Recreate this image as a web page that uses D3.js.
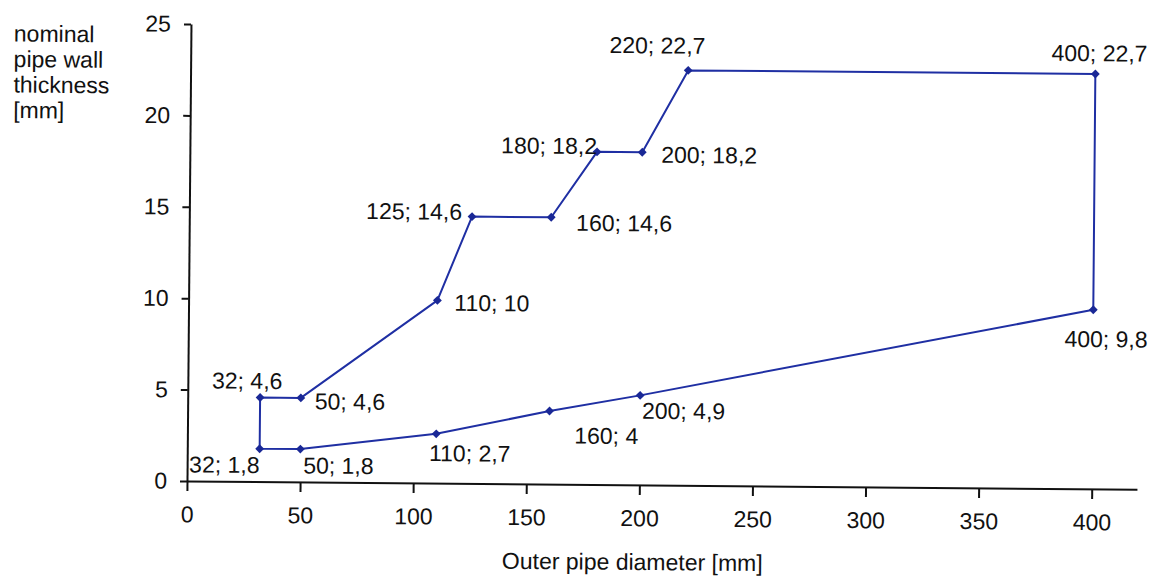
<!DOCTYPE html>
<html lang="en">
<head>
  <meta charset="UTF-8" />
  <title>Nominal pipe wall thickness vs outer diameter</title>
  <script src="https://d3js.org/d3.v7.min.js"></script>
  <style>
    body {
      margin: 0;
      background: #ffffff;
      font-family: "Liberation Sans", Arial, sans-serif;
    }
    svg { display: block; }
    .axis path, .axis line { stroke: #111; stroke-width: 2; }
    .axis text { font-size: 23px; fill: #111; font-family: "Liberation Sans", Arial, sans-serif; }
    .title { font-size: 23px; fill: #111; }
    .pt-label { font-size: 23px; fill: #111; }
    .outline { fill: none; stroke: #1f2fa3; stroke-width: 2; stroke-linejoin: round; }
    .marker { fill: #1a2896; }
  </style>
</head>
<body>
<svg id="chart"></svg>
<script>
// outer pipe diameter [mm], walked round the outline of the range
const diameters  = [32, 32, 50, 110, 125, 160, 180, 200, 220, 400, 400, 200, 160, 110, 50];
// nominal wall thickness [mm]
const thickness  = [1.8, 4.6, 4.6, 10, 14.6, 14.6, 18.2, 18.2, 22.7, 22.7, 9.8, 4.9, 4, 2.7, 1.8];
const xTicks = [0, 50, 100, 150, 200, 250, 300, 350, 400];
const yTicks = [0, 5, 10, 15, 20, 25];
const yTitle = ["nominal", "pipe wall", "thickness", "[mm]"];
const xTitle = "Outer pipe diameter [mm]";

// where each point label sits relative to its marker (anchor, dx, dy in px)
const labelPlace = [
  ["end", 0, 16], ["middle", -13, -17], ["start", 14, 3], ["start", 17, 2],
  ["end", -10, -5], ["start", 25, 5], ["end", 0, -6], ["start", 19, 2],
  ["middle", -31, -25], ["middle", 4, -21], ["middle", 13, 29], ["start", 2, 15],
  ["start", 25, 24], ["start", -7, 19], ["start", 3, 16]
];

const W = 1156, H = 577;
const svg = d3.select("#chart").attr("width", W).attr("height", H);
// the original is a slightly skewed scan
const g = svg.append("g").attr("transform", "rotate(0.5, 187, 481)");

const x = d3.scaleLinear().domain([0, 420]).range([187, 1137]);
const y = d3.scaleLinear().domain([0, 25]).range([481, 24]);

const fmt = v => String(v).replace(".", ",");
const pts = diameters.map((d, i) => ({ d, t: thickness[i], place: labelPlace[i] }));

g.append("g")
  .attr("class", "axis")
  .attr("transform", `translate(0,${y(0)})`)
  .call(d3.axisBottom(x).tickValues(xTicks).tickSize(10).tickPadding(15).tickSizeOuter(0))
  .call(a => a.selectAll("text").attr("dy", "0.71em"));

g.append("g")
  .attr("class", "axis")
  .attr("transform", `translate(${x(0)},0)`)
  .call(d3.axisLeft(y).tickValues(yTicks).tickSize(7).tickPadding(13).tickSizeOuter(0));

g.append("path")
  .datum(pts.concat([pts[0]]))
  .attr("class", "outline")
  .attr("d", d3.line().x(p => x(p.d)).y(p => y(p.t)));

g.append("g")
  .selectAll("path")
  .data(pts)
  .join("path")
  .attr("class", "marker")
  .attr("transform", p => `translate(${x(p.d)},${y(p.t)})`)
  .attr("d", d3.symbol(d3.symbolDiamond2, 50));

g.append("g")
  .selectAll("text")
  .data(pts)
  .join("text")
  .attr("class", "pt-label")
  .attr("x", p => x(p.d) + p.place[1])
  .attr("y", p => y(p.t) + p.place[2])
  .attr("dy", "0.36em")
  .attr("text-anchor", p => p.place[0])
  .text(p => `${p.d}; ${fmt(p.t)}`);

g.append("text")
  .attr("class", "title")
  .selectAll("tspan")
  .data(yTitle)
  .join("tspan")
  .attr("x", 10)
  .attr("y", (d, i) => 43 + i * 25.5)
  .text(d => d);

g.append("text")
  .attr("class", "title")
  .attr("x", 633)
  .attr("y", 566)
  .attr("text-anchor", "middle")
  .text(xTitle);
</script>
</body>
</html>
